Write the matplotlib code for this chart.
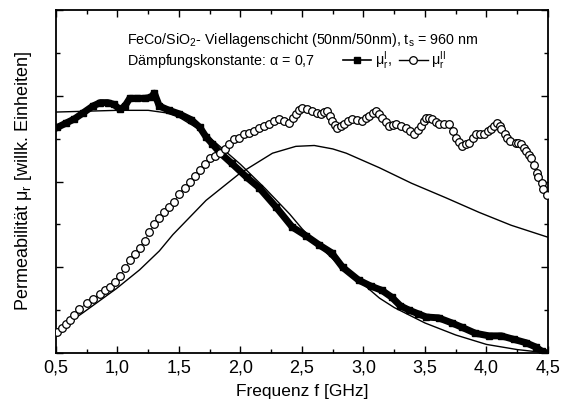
import matplotlib
matplotlib.use("Agg")
import matplotlib.pyplot as plt
from matplotlib.ticker import MultipleLocator, FixedLocator
from matplotlib.lines import Line2D

plt.rcParams['font.family'] = ['Liberation Sans', 'DejaVu Sans']
plt.rcParams['mathtext.fontset'] = 'custom'
plt.rcParams['mathtext.rm'] = 'Liberation Sans'
plt.rcParams['mathtext.it'] = 'Liberation Sans'

# measured mu'_r (filled squares)
f_mu1 = [0.51, 0.58, 0.65, 0.72, 0.80, 0.86, 0.92, 0.97, 1.02, 1.06, 1.10, 1.16, 1.22, 1.27, 1.30,
         1.34, 1.42, 1.50, 1.60, 1.67, 1.72, 1.77, 1.83, 1.93, 2.05, 2.15, 2.29, 2.42, 2.53, 2.64,
         2.74, 2.83, 2.96, 3.06, 3.15, 3.23, 3.30, 3.37, 3.44, 3.51, 3.61, 3.72, 3.80, 3.91, 4.02,
         4.12, 4.22, 4.32, 4.40, 4.45, 4.49]
v_mu1 = [2.63, 2.68, 2.73, 2.80, 2.88, 2.92, 2.92, 2.90, 2.84, 2.88, 2.97, 2.97, 2.97, 2.98, 3.03,
         2.88, 2.83, 2.79, 2.72, 2.63, 2.52, 2.44, 2.34, 2.21, 2.05, 1.93, 1.70, 1.47, 1.37, 1.26,
         1.17, 1.00, 0.85, 0.78, 0.73, 0.65, 0.55, 0.50, 0.46, 0.42, 0.41, 0.35, 0.30, 0.23, 0.20,
         0.20, 0.16, 0.12, 0.07, 0.02, 0.00]

# measured mu''_r (open circles)
f_mu2 = [0.51, 0.55, 0.58, 0.61, 0.65, 0.69, 0.75, 0.80, 0.86, 0.90, 0.94, 0.98, 1.02, 1.06, 1.10,
         1.14, 1.18, 1.22, 1.26, 1.30, 1.34, 1.38, 1.42, 1.46, 1.50, 1.55, 1.59, 1.63, 1.67, 1.71,
         1.75, 1.79, 1.83, 1.87, 1.91, 1.95, 1.99, 2.03, 2.07, 2.11, 2.15, 2.19,
         2.234, 2.275, 2.315, 2.356, 2.396, 2.429, 2.453, 2.477, 2.502, 2.542, 2.583, 2.623, 2.656,
         2.680, 2.704, 2.729, 2.745, 2.769, 2.785, 2.818, 2.842, 2.875, 2.907, 2.947, 2.988, 3.020,
         3.045, 3.077, 3.101, 3.126, 3.150, 3.182, 3.207, 3.239, 3.263, 3.304, 3.344, 3.377, 3.409,
         3.442, 3.466, 3.490, 3.506, 3.531, 3.555, 3.587, 3.612, 3.652, 3.693, 3.725, 3.750, 3.774,
         3.798, 3.831, 3.855, 3.887, 3.912, 3.944, 3.977, 4.009, 4.033, 4.058, 4.082, 4.106, 4.122,
         4.147, 4.163, 4.195, 4.236, 4.260, 4.284, 4.308, 4.325, 4.349, 4.365, 4.39, 4.41, 4.42,
         4.45, 4.46, 4.49]
v_mu2 = [0.24, 0.29, 0.34, 0.38, 0.44, 0.51, 0.58, 0.63, 0.69, 0.73, 0.77, 0.83, 0.90, 0.99, 1.08,
         1.15, 1.23, 1.31, 1.41, 1.50, 1.57, 1.64, 1.70, 1.76, 1.86, 1.93, 2.00, 2.06, 2.13, 2.20,
         2.27, 2.30, 2.33, 2.38, 2.44, 2.49, 2.51, 2.55, 2.57, 2.59, 2.62, 2.65,
         2.674, 2.709, 2.733, 2.709, 2.686, 2.744, 2.791, 2.837, 2.860, 2.849, 2.826, 2.802, 2.791,
         2.814, 2.826, 2.767, 2.709, 2.663, 2.628, 2.651, 2.674, 2.709, 2.733, 2.721, 2.709, 2.744,
         2.767, 2.802, 2.826, 2.791, 2.744, 2.698, 2.651, 2.663, 2.674, 2.651, 2.628, 2.593, 2.558,
         2.605, 2.651, 2.709, 2.744, 2.744, 2.733, 2.698, 2.674, 2.674, 2.674, 2.593, 2.512, 2.465,
         2.419, 2.442, 2.453, 2.512, 2.558, 2.558, 2.558, 2.593, 2.616, 2.651, 2.686, 2.651, 2.616,
         2.558, 2.512, 2.477, 2.453, 2.453, 2.442, 2.395, 2.360, 2.314, 2.279, 2.19, 2.10, 2.05,
         1.98, 1.91, 1.84]

# fitted curves (thin lines)
f_fit1 = [0.5, 0.75, 1.0, 1.25, 1.4, 1.5, 1.65, 1.8, 2.0, 2.2, 2.4, 2.5, 2.6, 2.8, 3.0, 3.13,
          3.25, 3.5, 3.75, 4.0, 4.25, 4.5]
v_fit1 = [2.81, 2.82, 2.83, 2.83, 2.80, 2.75, 2.62, 2.45, 2.20, 1.92, 1.62, 1.45, 1.30, 1.03, 0.80,
          0.64, 0.53, 0.35, 0.21, 0.10, 0.04, 0.0]
f_fit2 = [0.5, 0.72, 0.99, 1.18, 1.34, 1.45, 1.72, 1.99, 2.26, 2.45, 2.6, 2.75, 2.86, 3.13,
          3.39, 3.67, 3.94, 4.20, 4.5]
v_fit2 = [0.25, 0.47, 0.75, 0.97, 1.19, 1.38, 1.78, 2.09, 2.33, 2.41, 2.42, 2.38, 2.33, 2.16,
          1.98, 1.81, 1.64, 1.49, 1.35]

xticks = [0.5, 1.0, 1.5, 2.0, 2.5, 3.0, 3.5, 4.0, 4.5]
xticklabels = ["0,5", "1,0", "1,5", "2,0", "2,5", "3,0", "3,5", "4,0", "4,5"]

fig = plt.figure(figsize=(5.65, 4.12), dpi=100)
ax = fig.add_axes([0.0991, 0.1432, 0.8708, 0.8325])

ax.plot(f_fit1, v_fit1, color='black', lw=1.0, zorder=2)
ax.plot(f_fit2, v_fit2, color='black', lw=1.0, zorder=2)
ax.plot(f_mu1, v_mu1, color='black', lw=5.0, marker='s', ms=5, zorder=3,
        solid_joinstyle='round')
ax.plot(f_mu2, v_mu2, color='black', lw=0.6, marker='o', ms=5.5, mfc='white',
        mec='black', mew=0.9, zorder=4)

ax.set_xlim(0.5, 4.5)
ax.set_ylim(0, 4)
ax.xaxis.set_major_locator(FixedLocator(xticks))
ax.set_xticklabels(xticklabels, fontsize=13)
ax.xaxis.set_minor_locator(MultipleLocator(0.25))
ax.yaxis.set_major_locator(MultipleLocator(1.0))
ax.yaxis.set_minor_locator(MultipleLocator(0.5))
ax.set_yticklabels([])
ax.tick_params(which='both', direction='in', top=True, right=True, width=1.0)
ax.tick_params(which='major', length=5)
ax.tick_params(which='minor', length=3)
ax.tick_params(axis='x', pad=5)
for s in ax.spines.values():
    s.set_linewidth(1.3)

ax.set_xlabel("Frequenz f [GHz]", fontsize=12.5, labelpad=5)
ax.set_ylabel(r"Permeabilität $\mu_r$ [willk. Einheiten]", fontsize=13, labelpad=12)

ax.text(0.144, 0.913, r"FeCo/SiO$_2$- Viellagenschicht (50nm/50nm), t$_s$ = 960 nm",
        transform=ax.transAxes, fontsize=10.3, va='center', ha='left')
ax.text(0.144, 0.852, r"Dämpfungskonstante: $\alpha$ = 0,7",
        transform=ax.transAxes, fontsize=10.3, va='center', ha='left')

h1 = Line2D([], [], color='black', lw=1.2, marker='s', ms=5)
h2 = Line2D([], [], color='black', lw=1.0, marker='o', ms=5.5, mfc='white', mew=0.9)
leg = ax.legend([h1, h2], [r"$\mu^{\mathrm{I}}_{r}$,", r"$\mu^{\mathrm{II}}_{r}$"],
                loc='center left', bbox_to_anchor=(0.583, 0.852), ncol=2, frameon=False,
                fontsize=10.3, handlelength=2.0, handletextpad=0.25, columnspacing=0.5,
                borderpad=0, borderaxespad=0)

fig.savefig("out.png", dpi=100)
